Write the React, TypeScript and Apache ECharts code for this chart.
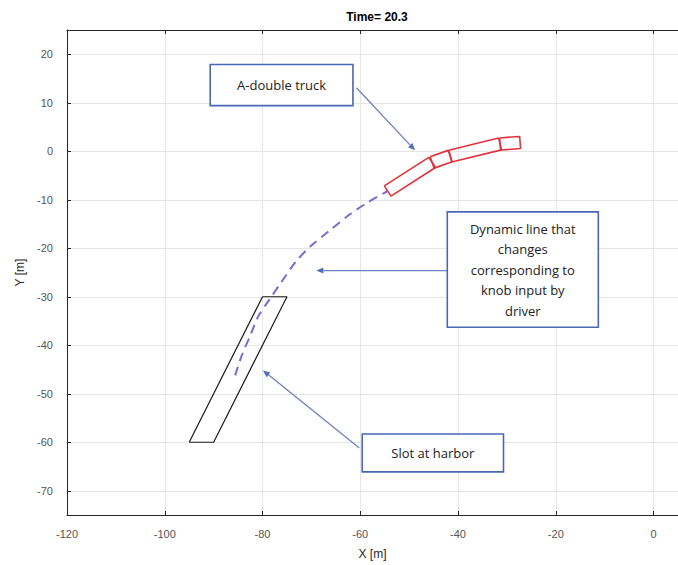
import React, { useEffect, useRef } from "react";
import * as echarts from "echarts";

// ---- data (metres) ----
const chartTitle = "Time= 20.3";
const xRange = [-120, 5];
const yRange = [-75, 25];
const xTickStep = 20;

// harbour slot outline (closed)
const slotOutline: number[][] = [
  [-95, -60],
  [-90, -60],
  [-75, -30],
  [-80, -30],
  [-95, -60],
];

// dynamic guidance line (driver knob input)
const dynamicLine: number[][] = [
  [-85.6, -46.2],
  [-84.2, -42.0],
  [-82.5, -38.0],
  [-80.9, -34.1],
  [-78.6, -30.6],
  [-76.3, -27.2],
  [-73.2, -22.8],
  [-70.3, -19.7],
  [-66.2, -16.3],
  [-62.1, -13.0],
  [-58.4, -10.5],
  [-54.4, -8.2],
];

// A-double truck: articulation points from rear to front
// (rear trailer, dolly, front trailer, tractor)
const truckJoints: number[][] = [
  [-54.4, -8.2],
  [-45.3, -2.3],
  [-41.6, -1.0],
  [-31.4, 1.5],
  [-27.3, 1.8],
];
const truckWidth = 2.5;

// callouts, in data coordinates
const annotations = [
  { text: "A-double truck", box: [[-90.7, 17.9], [-61.5, 9.4]], from: [-60.8, 13.1], to: [-48.8, 0.2] },
  {
    text: "Dynamic line that\nchanges\ncorresponding to\nknob input by\ndriver",
    box: [[-42.2, -12.5], [-11.3, -36.3]],
    from: [-42.2, -24.6],
    to: [-69.0, -24.6],
  },
  { text: "Slot at harbor", box: [[-59.6, -58.3], [-30.7, -66.1]], from: [-60.2, -61.2], to: [-79.9, -45.2] },
];

function unitRect(p0: number[], p1: number[], w: number): number[][] {
  const dx = p1[0] - p0[0];
  const dy = p1[1] - p0[1];
  const len = Math.sqrt(dx * dx + dy * dy);
  const nx = (-dy / len) * (w / 2);
  const ny = (dx / len) * (w / 2);
  return [
    [p0[0] + nx, p0[1] + ny],
    [p1[0] + nx, p1[1] + ny],
    [p1[0] - nx, p1[1] - ny],
    [p0[0] - nx, p0[1] - ny],
    [p0[0] + nx, p0[1] + ny],
  ];
}

export default function App() {
  const ref = useRef<HTMLDivElement>(null);

  useEffect(() => {
    if (!ref.current) return;
    const chart = echarts.init(ref.current, undefined, { renderer: "svg" });

    const truckSeries = truckJoints.slice(0, -1).map((p, i) => ({
      type: "line",
      name: "truck" + i,
      data: unitRect(p, truckJoints[i + 1], truckWidth),
      showSymbol: false,
      symbol: "none",
      lineStyle: { color: "#e2323e", width: 1.6 },
      z: 5,
    }));

    const axisCommon = {
      axisLine: { show: true, onZero: false, lineStyle: { color: "#262626", width: 1 } },
      axisTick: { show: true, inside: true, length: 4, lineStyle: { color: "#262626" } },
    };

    chart.setOption({
      animation: false,
      backgroundColor: "#ffffff",
      title: {
        text: chartTitle,
        left: 372,
        top: 6,
        textAlign: "center",
        textStyle: { fontFamily: "Liberation Sans, Arial", fontSize: 12, fontWeight: "bold", color: "#000" },
      },
      grid: { left: 67, top: 30, width: 611, height: 487, containLabel: false },
      xAxis: [
        {
          type: "value",
          min: xRange[0],
          max: xRange[1],
          interval: xTickStep,
          name: "X [m]",
          nameLocation: "middle",
          nameGap: 33,
          nameTextStyle: { fontFamily: "Liberation Sans, Arial", fontSize: 12, color: "#262626" },
          ...axisCommon,
          axisLabel: {
            show: true,
            margin: 13,
            showMaxLabel: false,
            fontFamily: "Liberation Sans, Arial",
            fontSize: 11,
            color: "#555555",
          },
          splitLine: { show: true, lineStyle: { color: "#e6e6e6", width: 1 } },
        },
        {
          type: "value",
          position: "top",
          min: xRange[0],
          max: xRange[1],
          interval: xTickStep,
          ...axisCommon,
          axisLabel: { show: false },
          splitLine: { show: false },
        },
      ],
      yAxis: [
        {
          type: "value",
          min: yRange[0],
          max: yRange[1],
          splitNumber: 10,
          minInterval: 10,
          maxInterval: 10,
          name: "Y [m]",
          nameLocation: "middle",
          nameGap: 38,
          nameTextStyle: { fontFamily: "Liberation Sans, Arial", fontSize: 12, color: "#262626" },
          ...axisCommon,
          axisLabel: {
            show: true,
            margin: 14,
            showMinLabel: false,
            showMaxLabel: false,
            fontFamily: "Liberation Sans, Arial",
            fontSize: 11,
            color: "#555555",
          },
          splitLine: { show: true, lineStyle: { color: "#e6e6e6", width: 1 } },
        },
      ],
      series: [
        {
          type: "line",
          name: "slot",
          data: slotOutline,
          showSymbol: false,
          symbol: "none",
          lineStyle: { color: "#1a1a1a", width: 1.2 },
          z: 4,
        },
        {
          type: "line",
          name: "dynamic",
          data: dynamicLine,
          smooth: 0.3,
          showSymbol: false,
          symbol: "none",
          lineStyle: { color: "#7b6bd0", width: 2, type: [9, 6] },
          z: 4,
        },
        ...truckSeries,
      ],
    });

    const toPx = (p: number[]) => chart.convertToPixel({ gridIndex: 0 }, p) as number[];
    const graphics: any[] = [];
    annotations.forEach((a) => {
      const b0 = toPx(a.box[0]);
      const b1 = toPx(a.box[1]);
      const f = toPx(a.from);
      const t = toPx(a.to);
      const dx = t[0] - f[0];
      const dy = t[1] - f[1];
      const len = Math.sqrt(dx * dx + dy * dy);
      const ux = dx / len;
      const uy = dy / len;
      const hl = 7;
      const hw = 3;
      const bx = t[0] - ux * hl;
      const by = t[1] - uy * hl;
      graphics.push({
        type: "line",
        shape: { x1: f[0], y1: f[1], x2: bx, y2: by },
        style: { stroke: "#6d82c0", lineWidth: 1.3 },
        z: 50,
      });
      graphics.push({
        type: "polygon",
        shape: {
          points: [
            [t[0], t[1]],
            [bx - uy * hw, by + ux * hw],
            [bx + uy * hw, by - ux * hw],
          ],
        },
        style: { fill: "#4f6fb8" },
        z: 50,
      });
      const x = Math.min(b0[0], b1[0]);
      const y = Math.min(b0[1], b1[1]);
      const w = Math.abs(b1[0] - b0[0]);
      const h = Math.abs(b1[1] - b0[1]);
      graphics.push({
        type: "rect",
        shape: { x, y, width: w, height: h },
        style: { fill: "#ffffff", stroke: "#4a68b2", lineWidth: 1.6 },
        z: 51,
      });
      graphics.push({
        type: "text",
        x: x + w / 2,
        y: y + h / 2,
        style: {
          text: a.text,
          fill: "#222222",
          font: "13px 'Open Sans', sans-serif",
          align: "center",
          verticalAlign: "middle",
          lineHeight: 20.5,
        },
        z: 52,
      });
    });
    chart.setOption({ graphic: graphics });

    return () => chart.dispose();
  }, []);

  return (
    <div
      ref={ref}
      style={{ position: "fixed", left: 0, top: 0, width: 678, height: 565, background: "#fff" }}
    />
  );
}
